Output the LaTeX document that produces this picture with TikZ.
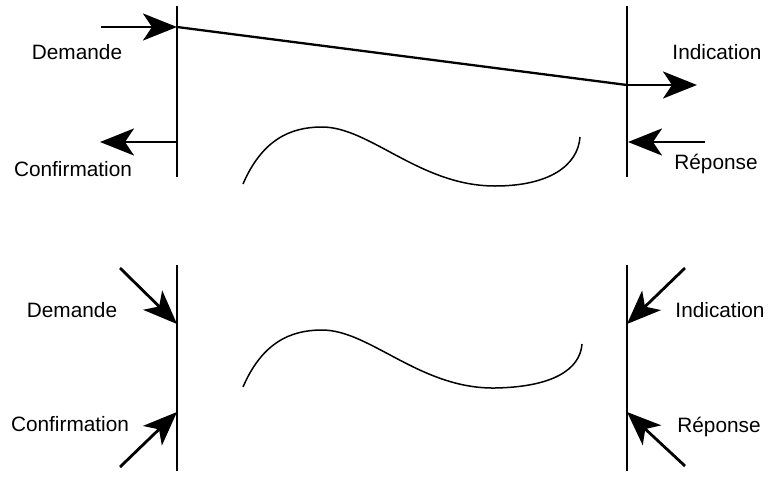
\documentclass[tikz,border=0pt]{standalone}
\usepackage{fontspec}
\setmainfont{Liberation Sans}
\usetikzlibrary{arrows.meta}
\begin{document}
\begin{tikzpicture}[x=1pt,y=-1pt,
  bar/.style={line width=1.8pt},
  msg/.style={line width=2.8pt,-{Stealth[length=34pt,width=27pt,inset=9pt]}},
  wave/.style={line width=1.5pt},
  lbl/.style={font=\fontsize{20.8}{24}\selectfont,inner sep=0pt}]
\useasboundingbox (0,0) rectangle (773,477);
% top part
\coordinate (tl1) at (177,6);
\coordinate (tl2) at (177,177);
\coordinate (tr1) at (627,6);
\coordinate (tr2) at (627,177);
\draw[bar] (tl1) -- (tl2);
\draw[bar] (tr1) -- (tr2);
\coordinate (tA) at (177,27);
\coordinate (tB) at (627,85);
\draw[line width=2.3pt] (tA) -- (tB);
\coordinate (dS) at (101,27);
\draw[msg] (dS) -- (tA);
\coordinate (cS) at (177,142);
\coordinate (cE) at (100,142);
\draw[msg] (cS) -- (cE);
\coordinate (iE) at (697,85);
\draw[msg] (tB) -- (iE);
\coordinate (rS) at (705,142);
\coordinate (rE) at (628,142);
\draw[msg] (rS) -- (rE);
\node[lbl] (ld1) at (77,52) {Demande};
\node[lbl] (lc1) at (73,169) {Confirmation};
\node[lbl] (li1) at (717,52) {Indication};
\node[lbl] (lr1) at (716,164) {Réponse};
\draw[wave] (243,184) .. controls (262,140) and (290,127) .. (322,127)
  .. controls (370,127) and (420,186) .. (495,186)
  .. controls (550,186) and (578,165) .. (580,137);
% bottom part
\coordinate (bl1) at (177,265);
\coordinate (bl2) at (177,471);
\coordinate (br1) at (627,265);
\coordinate (br2) at (627,471);
\draw[bar] (bl1) -- (bl2);
\draw[bar] (br1) -- (br2);
\coordinate (bdS) at (120,268);
\coordinate (bdE) at (177,324);
\draw[msg] (bdS) -- (bdE);
\coordinate (bcS) at (120,467);
\coordinate (bcE) at (177,412);
\draw[msg] (bcS) -- (bcE);
\coordinate (biS) at (685,268);
\coordinate (biE) at (627,324);
\draw[msg] (biS) -- (biE);
\coordinate (brS) at (685,466);
\coordinate (brE) at (627,412);
\draw[msg] (brS) -- (brE);
\node[lbl] (ld2) at (72,310) {Demande};
\node[lbl] (lc2) at (70,424) {Confirmation};
\node[lbl] (li2) at (720,310) {Indication};
\node[lbl] (lr2) at (719,427) {Réponse};
\draw[wave] (243,387) .. controls (262,343) and (290,330) .. (322,330)
  .. controls (370,330) and (420,389) .. (495,388)
  .. controls (552,387) and (580,370) .. (582,344);
\end{tikzpicture}
\end{document}
